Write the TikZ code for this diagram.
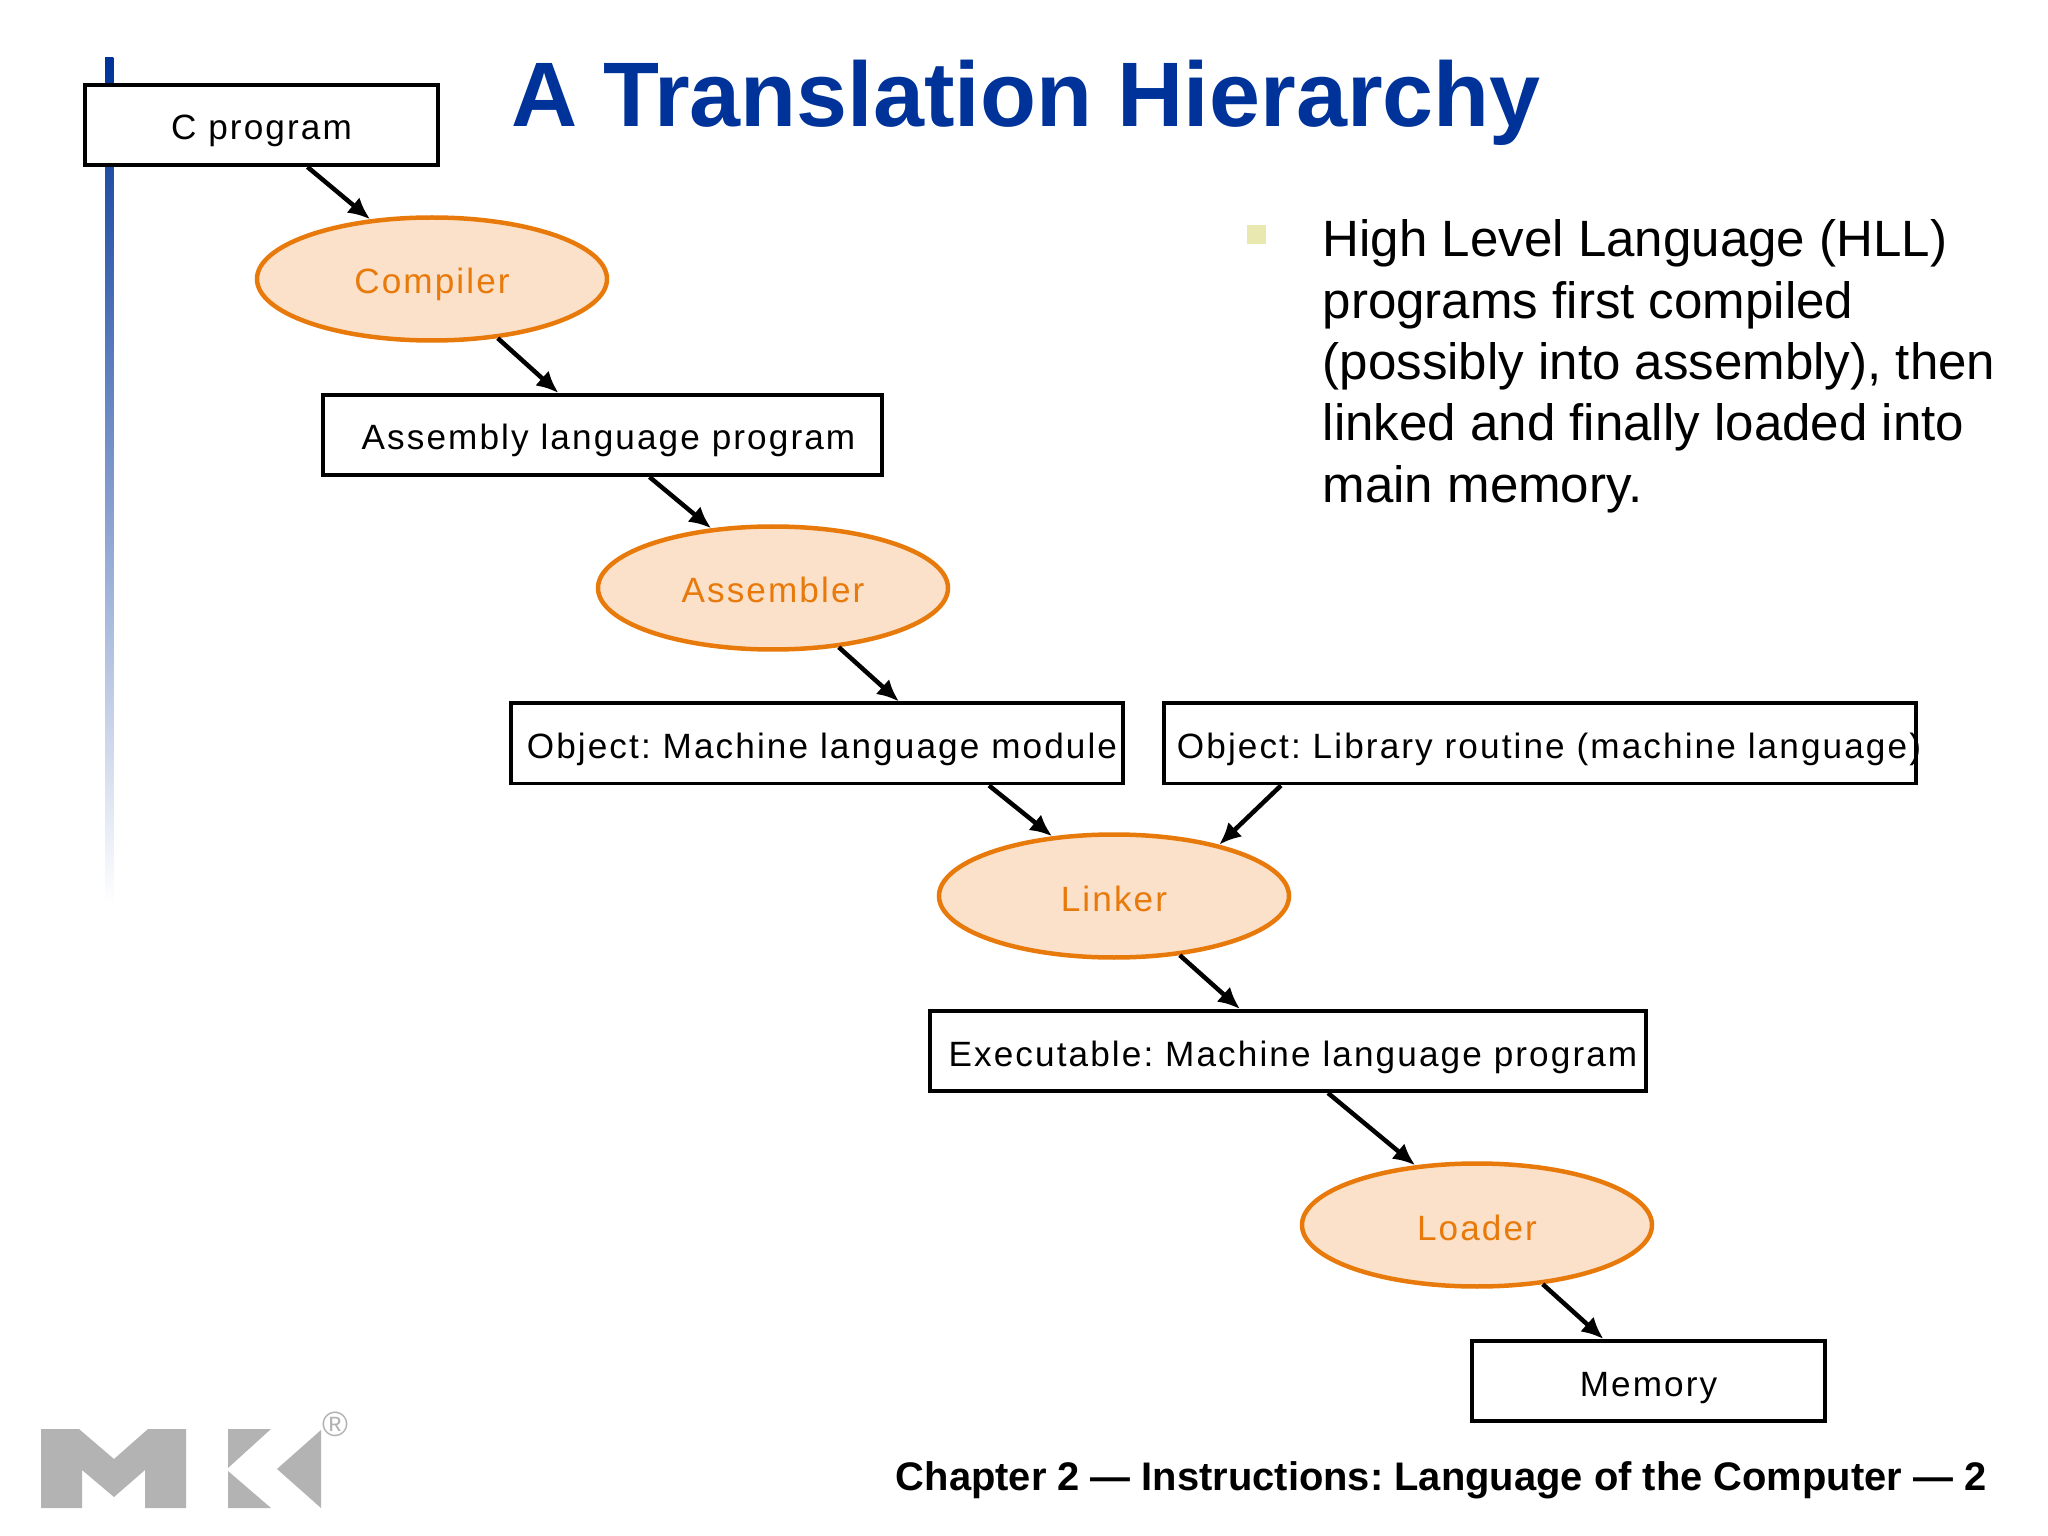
\documentclass[tikz,border=0pt]{standalone}
\usepackage{fontspec}
\setmainfont{Liberation Sans}
\newfontfamily\labelfont[LetterSpace=6]{Liberation Sans}
\usepackage{tikz}
\usetikzlibrary{arrows.meta,shapes.geometric}
\definecolor{titleblue}{HTML}{003399}
\definecolor{orangeline}{HTML}{E87A0C}
\definecolor{orangefill}{HTML}{FBE1CA}
\definecolor{bulletyellow}{HTML}{E8E8B0}
\definecolor{logogray}{HTML}{B3B3B3}
\frenchspacing

\begin{document}
\begin{tikzpicture}[
  x=1cm,y=1cm,
  box/.style={draw=black,fill=white,line width=.04cm,minimum height=.8cm,
    text height=.38cm,text depth=.08cm,inner sep=0pt,
    font=\labelfont\fontsize{10}{12}\selectfont},
  oval/.style={ellipse,draw=orangeline,fill=orangefill,line width=.045cm,
    minimum width=3.5cm,minimum height=1.23cm,inner sep=0pt,
    text=orangeline,text height=.38cm,text depth=.08cm,
    font=\labelfont\fontsize{10}{12}\selectfont},
  arr/.style={-{Latex[length=.22cm,width=.2cm]},line width=.045cm,draw=black},
  logo/.style={fill=logogray,draw=none}
]
\useasboundingbox (0,0) rectangle (20.48,-15.36);
% side bar
\shade[top color=titleblue,bottom color=white,draw=none] (1.05,-.58) rectangle (1.135,-9.05);
% title and text
\node[text=titleblue,font=\bfseries\fontsize{26.08}{30}\selectfont,anchor=base west,inner sep=0pt] (title) at (5.11,-1.27) {A Translation Hierarchy};
\node[fill=bulletyellow,minimum size=.19cm,inner sep=0pt] (bullet) at (12.565,-2.35) {};
\node[font=\fontsize{14.53}{17.47}\selectfont,align=left,anchor=north west,inner sep=0pt] (hll) at (13.22,-2.19) {High Level Language (HLL)\\programs first compiled\\(possibly into assembly), then\\linked and finally loaded into\\main memory.};
\node[font=\bfseries\fontsize{11.35}{13}\selectfont,anchor=base east,inner sep=0pt] (foot) at (19.87,-14.9) {Chapter 2 --- Instructions: Language of the Computer --- 2};
% boxes and ovals
\node[box,minimum width=3.53cm] (cprog) at (2.615,-1.25) {C program};
\node[oval] (comp) at (4.32,-2.79) {Compiler};
\node[box,minimum width=5.59cm] (asmprog) at (6.025,-4.35) {\hspace*{.12cm}Assembly language program};
\node[oval] (asm) at (7.73,-5.88) {Assembler};
\node[box,minimum width=6.12cm] (objm) at (8.17,-7.435) {\hspace*{.1cm}Object: Machine language module};
\node[box,minimum width=7.52cm] (objl) at (15.4,-7.435) {\hspace*{.09cm}Object: Library routine (machine language)\hspace*{-.09cm}};
\node[oval] (linker) at (11.14,-8.96) {Linker};
\node[box,minimum width=7.16cm] (exe) at (12.88,-10.51) {\hspace*{.1cm}Executable: Machine language program};
\node[oval] (loader) at (14.77,-12.25) {Loader};
\node[box,minimum width=3.53cm] (mem) at (16.485,-13.81) {Memory};
% connectors
\draw[arr] ([xshift=.46cm]cprog.south)--(comp.136);
\draw[arr] (comp.318)--([xshift=-.44cm]asmprog.north);
\draw[arr] ([xshift=.47cm]asmprog.south)--(asm.136);
\draw[arr] (asm.318)--([xshift=.82cm]objm.north);
\draw[arr] ([xshift=1.72cm]objm.south)--(linker.136);
\draw[arr] ([xshift=-2.59cm]objl.south)--(linker.26);
\draw[arr] (linker.318)--([xshift=-.48cm]exe.north);
\draw[arr] ([xshift=.40cm]exe.south)--(loader.136);
\draw[arr] (loader.318)--([xshift=-.45cm]mem.north);
% logo
\fill[logo] (.41,-14.29)--(.79,-14.29)--(1.14,-14.59)--(1.48,-14.29)--(1.86,-14.29)--(1.86,-15.08)--(1.45,-15.08)--(1.45,-14.70)--(1.14,-14.97)--(.82,-14.70)--(.82,-15.08)--(.41,-15.08)--cycle;
\fill[logo] (2.28,-14.29)--(2.71,-14.29)--(2.28,-14.68)--cycle;
\fill[logo] (2.28,-14.71)--(2.71,-15.08)--(2.28,-15.08)--cycle;
\fill[logo] (3.21,-14.30)--(3.21,-15.08)--(2.77,-14.69)--cycle;
\node[text=logogray,font=\fontsize{10}{12}\selectfont,inner sep=0pt] (reg) at (3.35,-14.24) {®};
\end{tikzpicture}
\end{document}
